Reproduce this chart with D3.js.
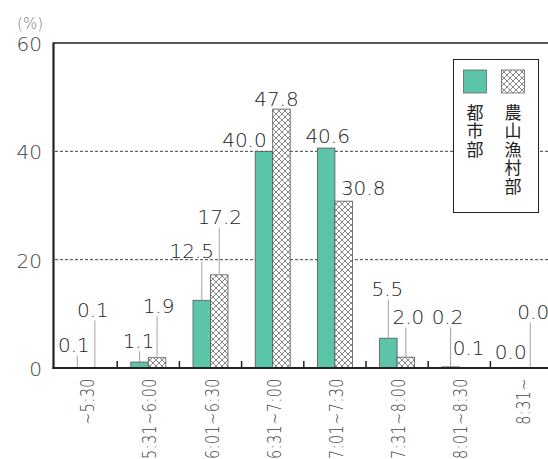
<!DOCTYPE html>
<html><head><meta charset="utf-8">
<script src="https://cdn.jsdelivr.net/npm/d3@7"></script>
<style>
html,body{margin:0;padding:0;background:#fff;}
svg{display:block;font-family:"DejaVu Sans",sans-serif;}
</style></head>
<body>
<svg id="c" width="548" height="459"></svg>
<script>
// ---- data ----
const categories = ["~5:30","5:31~6:00","6:01~6:30","6:31~7:00","7:01~7:30","7:31~8:00","8:01~8:30","8:31~"];
const seriesNames = ["都市部","農山漁村部"];
const urbanValues = [0.1, 1.1, 12.5, 40.0, 40.6, 5.5, 0.2, 0.0];
const ruralValues = [0.1, 1.9, 17.2, 47.8, 30.8, 2.0, 0.1, 0.0];
const yTicks = [0, 20, 40, 60];
const yUnit = "(%)";

// ---- label layout (pixel offsets, not data) ----
const urbanLabelDx = [-3.5, -1, -10, -19.5, 1.5, -1, -3, -2];
const urbanLabelRise = [16, 20, 110, 221, 225, 72, 44, 9];
const ruralLabelDx = [-2, 1.5, 0.5, -5, 19.5, 2.5, 0.5, 3];
const ruralLabelRise = [51, 55, 144, 262, 173, 44, 13, 49];

(function(){
const svg = d3.select("#c");
const mLeft = 55, mTop = 43, mBottom = 368, bandStep = 62.2;
const mRight = mLeft + bandStep * categories.length;

const defs = svg.append("defs");
const pat = defs.append("pattern").attr("id","hatch").attr("patternUnits","userSpaceOnUse")
  .attr("width",6).attr("height",6);
pat.append("rect").attr("width",6).attr("height",6).attr("fill","#fff");
pat.append("path").attr("d","M0,0L6,6M6,0L0,6M-1,5L1,7M5,-1L7,1M-1,1L1,-1M5,7L7,5")
  .attr("stroke","#6a6a6a").attr("stroke-width",0.8).attr("fill","none");

const x0 = d3.scaleBand().domain(categories).range([mLeft, mRight]).paddingInner(0).paddingOuter(0);
const groupW = 35;
const x1 = d3.scaleBand().domain(seriesNames).range([(x0.bandwidth()-groupW)/2, (x0.bandwidth()+groupW)/2]);
const y = d3.scaleLinear().domain([0, 60]).range([mBottom, mTop]);

// gridlines
svg.append("g").selectAll("line").data([20, 40]).join("line")
  .attr("x1", mLeft).attr("x2", 548).attr("y1", d => y(d)).attr("y2", d => y(d))
  .attr("stroke", "#444").attr("stroke-width", 1).attr("stroke-dasharray", "3,2");

// top border
svg.append("line").attr("x1", mLeft-1).attr("x2", 548).attr("y1", mTop).attr("y2", mTop)
  .attr("stroke", "#222").attr("stroke-width", 1.6);

const series = [
  {name: seriesNames[0], values: urbanValues, fill: "#5cc4a8", dx: urbanLabelDx, rise: urbanLabelRise},
  {name: seriesNames[1], values: ruralValues, fill: "url(#hatch)", dx: ruralLabelDx, rise: ruralLabelRise}
];
series.forEach(s => {
  const g = svg.append("g");
  g.selectAll("rect").data(s.values).join("rect")
    .attr("x", (d,i) => x0(categories[i]) + x1(s.name))
    .attr("y", d => y(d))
    .attr("width", x1.bandwidth())
    .attr("height", d => y(0) - y(d))
    .attr("fill", s.fill).attr("stroke", "#555").attr("stroke-width", 0.8);
});

// legend
const lg = svg.append("g");
lg.append("rect").attr("x", 453.5).attr("y", 59.5).attr("width", 85).attr("height", 153)
  .attr("fill", "#fff").attr("stroke", "#222").attr("stroke-width", 1);
const legendX = [475, 513];
series.forEach((s, k) => {
  lg.append("rect").attr("x", legendX[k]-11.5).attr("y", 70).attr("width", 23).attr("height", 23)
    .attr("fill", s.fill).attr("stroke", "#666").attr("stroke-width", 0.8);
  lg.append("text").attr("x", legendX[k]).attr("y", 104)
    .attr("writing-mode", "vertical-rl")
    .style("writing-mode", "vertical-rl")
    .attr("font-size", 17).attr("fill", "#222").attr("letter-spacing", 1.5)
    .style("font-family", "'Noto Sans CJK JP',sans-serif")
    .text(s.name);
});

// value labels + leaders
series.forEach(s => {
  const g = svg.append("g");
  s.values.forEach((v, i) => {
    const cx = x0(categories[i]) + x1(s.name) + x1.bandwidth()/2;
    const base = y(0) - s.rise[i];
    const barTop = y(v);
    if (barTop - base > 13) {
      g.append("line").attr("x1", cx).attr("x2", cx).attr("y1", base + 3.5).attr("y2", barTop)
        .attr("stroke", "#999").attr("stroke-width", 0.9);
    }
    g.append("text").attr("x", cx + s.dx[i]).attr("y", base)
      .attr("text-anchor", "middle").attr("font-size", 20).attr("fill", "#222")
      .style("font-weight", 200)
      .text(v.toFixed(1));
  });
});

// axis lines
svg.append("line").attr("x1", 53.5).attr("x2", 53.5).attr("y1", mTop-0.8).attr("y2", mBottom+1)
  .attr("stroke", "#222").attr("stroke-width", 2.2);
svg.append("line").attr("x1", 52.5).attr("x2", 548).attr("y1", mBottom).attr("y2", mBottom)
  .attr("stroke", "#222").attr("stroke-width", 2);

// x ticks at band boundaries
svg.append("g").selectAll("line").data(categories.slice(1)).join("line")
  .attr("x1", d => x0(d)).attr("x2", d => x0(d)).attr("y1", mBottom).attr("y2", mBottom - 7)
  .attr("stroke", "#222").attr("stroke-width", 1.5);

// x labels (condensed along the text direction)
svg.append("g").selectAll("text").data(categories).join("text")
  .attr("transform", d => `translate(${x0(d) + x0.bandwidth()/2 + 8},378) rotate(-90) scale(0.76,1)`)
  .attr("text-anchor", "end").attr("font-size", 19).attr("fill", "#444")
  .attr("letter-spacing", 0.6)
  .style("font-weight", 200)
  .text(d => d);

// y labels
svg.append("g").selectAll("text").data(yTicks).join("text")
  .attr("x", 42).attr("y", d => y(d) + 8)
  .attr("text-anchor", "end").attr("font-size", 20).attr("fill", "#444")
  .style("font-weight", 200)
  .text(d => d);
svg.append("text").attr("x", 43).attr("y", 29).attr("text-anchor", "end")
  .attr("font-size", 15).attr("fill", "#777").style("font-weight", 200).text(yUnit);
})();
</script>
</body></html>
